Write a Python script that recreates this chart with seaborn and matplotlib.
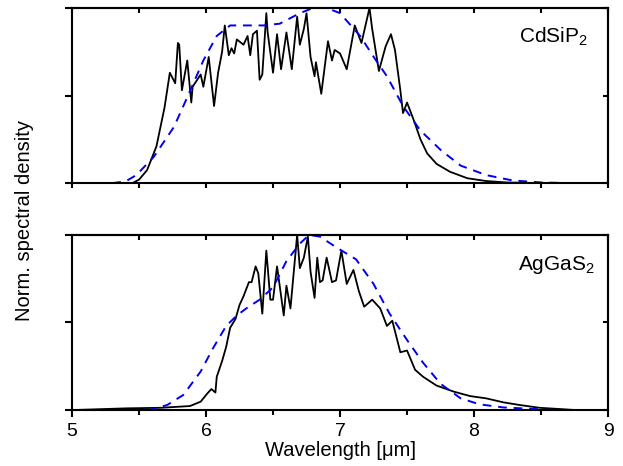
import numpy as np
import pandas as pd
import matplotlib
matplotlib.use("Agg")
import matplotlib.pyplot as plt
import seaborn as sns

# measured spectra (black) and fits (blue dashed), normalised
cdsip_x = [5.00, 5.30, 5.45, 5.50, 5.56, 5.63, 5.69, 5.73, 5.77, 5.79, 5.80, 5.82, 5.86, 5.89,
           5.90, 5.96, 5.98, 6.02, 6.06, 6.09, 6.12, 6.14, 6.17, 6.19, 6.21, 6.23, 6.28, 6.31,
           6.33, 6.35, 6.38, 6.40, 6.42, 6.45, 6.46, 6.50, 6.53, 6.56, 6.60, 6.64, 6.68, 6.70,
           6.73, 6.75, 6.78, 6.81, 6.82, 6.86, 6.91, 6.94, 6.96, 7.00, 7.05, 7.11, 7.16, 7.22,
           7.24, 7.29, 7.34, 7.38, 7.41, 7.45, 7.47, 7.50, 7.55, 7.60, 7.65, 7.72, 7.82, 7.95,
           8.09, 8.24, 8.50, 8.60]
cdsip_y = [0.0, 0.0, 0.0, 0.02, 0.074, 0.21, 0.43, 0.63, 0.57, 0.80, 0.79, 0.53, 0.70, 0.46,
           0.55, 0.62, 0.55, 0.72, 0.44, 0.63, 0.75, 0.90, 0.73, 0.77, 0.74, 0.82, 0.79, 0.84,
           0.73, 0.85, 0.87, 0.59, 0.62, 0.97, 0.86, 0.63, 0.85, 0.65, 0.86, 0.65, 0.95, 0.79,
           0.88, 0.97, 0.72, 0.61, 0.69, 0.51, 0.81, 0.70, 0.76, 0.74, 0.65, 0.90, 0.80, 1.00,
           0.88, 0.64, 0.78, 0.85, 0.76, 0.53, 0.40, 0.46, 0.36, 0.25, 0.17, 0.11, 0.065, 0.028,
           0.012, 0.004, 0.0, 0.0]

cdsip_fit_x = [5.30, 5.40, 5.48, 5.61, 5.76, 5.86, 5.98, 6.08, 6.18, 6.30, 6.43, 6.55, 6.70,
               6.80, 6.90, 7.00, 7.15, 7.26, 7.35, 7.47, 7.60, 7.75, 7.90, 8.09, 8.29, 8.50, 8.72]
cdsip_fit_y = [0.0, 0.01, 0.046, 0.15, 0.32, 0.49, 0.70, 0.84, 0.90, 0.90, 0.90, 0.91, 0.97,
               1.00, 1.00, 0.97, 0.84, 0.71, 0.61, 0.44, 0.30, 0.19, 0.10, 0.046, 0.015, 0.004, 0.0]

aggas_x = [5.00, 5.41, 5.66, 5.88, 5.96, 6.01, 6.04, 6.07, 6.08, 6.12, 6.15, 6.18, 6.22, 6.25,
           6.28, 6.32, 6.34, 6.37, 6.39, 6.42, 6.45, 6.48, 6.50, 6.53, 6.58, 6.60, 6.63, 6.68,
           6.70, 6.73, 6.76, 6.78, 6.81, 6.83, 6.85, 6.87, 6.90, 6.94, 6.97, 7.01, 7.05, 7.10,
           7.14, 7.18, 7.24, 7.30, 7.35, 7.39, 7.45, 7.50, 7.56, 7.62, 7.72, 7.85, 7.97, 8.09,
           8.22, 8.34, 8.49, 8.64, 8.76]
aggas_y = [0.0, 0.01, 0.013, 0.023, 0.048, 0.095, 0.12, 0.10, 0.19, 0.28, 0.36, 0.47, 0.52, 0.60,
           0.65, 0.73, 0.73, 0.82, 0.78, 0.55, 0.91, 0.63, 0.63, 0.82, 0.54, 0.71, 0.58, 1.00,
           0.81, 0.87, 0.99, 0.79, 0.64, 0.87, 0.73, 0.74, 0.87, 0.73, 0.74, 0.91, 0.72, 0.80,
           0.68, 0.59, 0.63, 0.58, 0.48, 0.51, 0.33, 0.34, 0.23, 0.19, 0.14, 0.105, 0.08, 0.067,
           0.044, 0.029, 0.013, 0.006, 0.0]

aggas_fit_x = [5.45, 5.58, 5.71, 5.83, 5.96, 6.05, 6.15, 6.23, 6.30, 6.40, 6.50, 6.60, 6.70,
               6.77, 6.85, 6.97, 7.12, 7.25, 7.37, 7.50, 7.62, 7.75, 7.90, 8.04, 8.22, 8.46, 8.60]
aggas_fit_y = [0.0, 0.0, 0.029, 0.086, 0.22, 0.35, 0.48, 0.54, 0.58, 0.63, 0.70, 0.85, 0.95,
               1.00, 0.99, 0.93, 0.86, 0.72, 0.55, 0.40, 0.27, 0.15, 0.067, 0.033, 0.015, 0.006, 0.0]

panels = [("CdSiP$_2$", cdsip_x, cdsip_y, cdsip_fit_x, cdsip_fit_y, 0.963),
          ("AgGaS$_2$", aggas_x, aggas_y, aggas_fit_x, aggas_fit_y, 0.976)]

sns.set_style("ticks")
plt.rcParams['font.family'] = ['Liberation Sans', 'DejaVu Sans']
plt.rcParams['mathtext.fontset'] = 'custom'
plt.rcParams['mathtext.rm'] = 'Liberation Sans'
plt.rcParams['mathtext.it'] = 'Liberation Sans'
plt.rcParams['axes.linewidth'] = 1.5
plt.rcParams['text.color'] = 'black'
plt.rcParams['axes.labelcolor'] = 'black'
plt.rcParams['xtick.color'] = 'black'
plt.rcParams['ytick.color'] = 'black'

fig = plt.figure(figsize=(6.23, 4.66), dpi=100)
axes = [fig.add_axes([0.1156, 0.607, 0.8604, 0.376]),
        fig.add_axes([0.1156, 0.120, 0.8604, 0.376])]

for i, (ax, (name, x, y, fx, fy, tx)) in enumerate(zip(axes, panels)):
    sns.lineplot(x=x, y=y, ax=ax, color='black', lw=1.3, sort=False)
    sns.lineplot(x=fx, y=fy, ax=ax, color='#0000ee', lw=1.4, sort=False, dashes=False,
                 linestyle=(0, (4.5, 3.5)))
    ax.set_xlim(5, 9)
    ax.set_ylim(0, 1)
    ax.set_yticks([0, 0.5, 1])
    ax.set_yticklabels([])
    ax.set_xticks([5, 6, 7, 8, 9])
    ax.set_xticks([5.5, 6.5, 7.5, 8.5], minor=True)
    ax.tick_params(axis='both', which='major', direction='out', length=5, width=1.5,
                   colors='black', labelsize=14, pad=4)
    ax.tick_params(axis='x', which='minor', direction='out', length=3.5, width=1.5)
    if i == 0:
        ax.tick_params(axis='x', which='major', length=3.5, labelbottom=False)
    else:
        ax.set_xlabel("Wavelength [μm]", fontsize=14.5, labelpad=1, color='black')
    for s in ax.spines.values():
        s.set_visible(True)
        s.set_linewidth(1.5)
        s.set_color('black')
    top = ax.secondary_xaxis('top')
    top.set_xticks([5, 5.5, 6, 6.5, 7, 7.5, 8, 8.5, 9])
    top.tick_params(direction='in', length=3.5, width=1.5, labeltop=False)
    right = ax.secondary_yaxis('right')
    right.set_yticks([0, 0.5, 1])
    right.tick_params(direction='in', length=3.5, width=1.5, labelright=False)
    ax.text(tx, 0.80, name, transform=ax.transAxes, ha='right', va='baseline', fontsize=15,
            color='black')

fig.text(0.040, 0.526, "Norm. spectral density", rotation=90, ha='center', va='center',
         fontsize=14.5, color='black')

fig.savefig("out.png", dpi=100)
